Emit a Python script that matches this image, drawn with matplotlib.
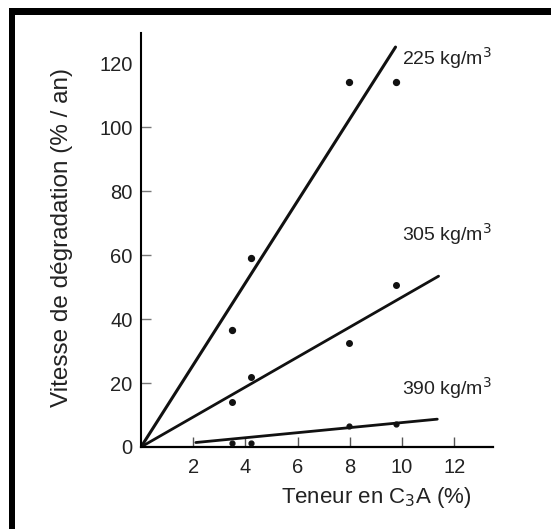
import matplotlib
matplotlib.use("Agg")
import matplotlib.pyplot as plt
from matplotlib.patches import Rectangle

plt.rcParams['font.family'] = ['Liberation Sans', 'DejaVu Sans']

# measured points, C3A content (%) vs degradation rate (% / an)
c3a = [3.5, 4.2, 7.95, 9.75]
rate_225 = [36.5, 59.0, 114.0, 114.0]
rate_305 = [14.0, 22.0, 32.5, 50.5]
rate_390 = [1.2, 1.2, 6.5, 7.2]

# hand-drawn trend lines (end points)
fit_225_x = [0, 9.75]
fit_225_y = [0, 125]
fit_305_x = [0, 11.4]
fit_305_y = [0, 53.4]
fit_390_x = [2.1, 11.35]
fit_390_y = [1.4, 8.7]

labels = ['225 kg/m$^3$', '305 kg/m$^3$', '390 kg/m$^3$']
label_y = [121.5, 66.5, 18.5]

xticks = [2, 4, 6, 8, 10, 12]
yticks = [0, 20, 40, 60, 80, 100, 120]

W, H = 551, 529
fig = plt.figure(figsize=(W / 100, H / 100), dpi=100)
ax = fig.add_axes([141 / W, (H - 447) / H, 352.4 / W, 414 / H])

col = '#111111'
ax.plot(fit_225_x, fit_225_y, color=col, lw=2.2, solid_capstyle='round')
ax.plot(fit_305_x, fit_305_y, color=col, lw=2.0, solid_capstyle='round')
ax.plot(fit_390_x, fit_390_y, color=col, lw=2.0, solid_capstyle='round')
ax.scatter(c3a, rate_225, s=18, color=col, zorder=3)
ax.scatter(c3a, rate_305, s=16, color=col, zorder=3)
ax.scatter(c3a, rate_390, s=12, color=col, zorder=3)

for lab, yy in zip(labels, label_y):
    ax.text(10.0, yy, lab, fontsize=14, color='#222222', ha='left', va='center')

ax.set_xlim(0, 13.5)
ax.set_ylim(0, 129.4)
ax.spines['top'].set_visible(False)
ax.spines['right'].set_visible(False)
ax.spines['left'].set_linewidth(1.5)
ax.spines['bottom'].set_linewidth(1.6)
ax.set_xticks(xticks)
ax.set_yticks(yticks)
ax.tick_params(axis='x', direction='in', length=7, width=1, pad=8,
               labelsize=14.5, labelcolor='#222222', color='#555555')
ax.tick_params(axis='y', direction='in', length=7, width=1, pad=6,
               labelsize=14.5, labelcolor='#222222', color='#777777')
# no tick mark at 0 and 120
ax.yaxis.get_major_ticks()[0].tick1line.set_visible(False)
ax.yaxis.get_major_ticks()[-1].tick1line.set_visible(False)

fig.text(62 / W, 1 - 237 / H, 'Vitesse de dégradation (% / an)', rotation=90,
         fontsize=17.5, color='#222222', ha='center', va='center')
fig.text(376 / W, 1 - 497 / H, 'Teneur en C$_3$A (%)',
         fontsize=16, color='#222222', ha='center', va='center')

# black scan frame (left and top)
fig.add_artist(Rectangle((9 / W, 0), 6 / W, (H - 8) / H, transform=fig.transFigure,
                         color='black', lw=0))
fig.add_artist(Rectangle((9 / W, (H - 15) / H), (W - 9) / W, 7 / H,
                         transform=fig.transFigure, color='black', lw=0))

fig.savefig('out.png', dpi=100)
